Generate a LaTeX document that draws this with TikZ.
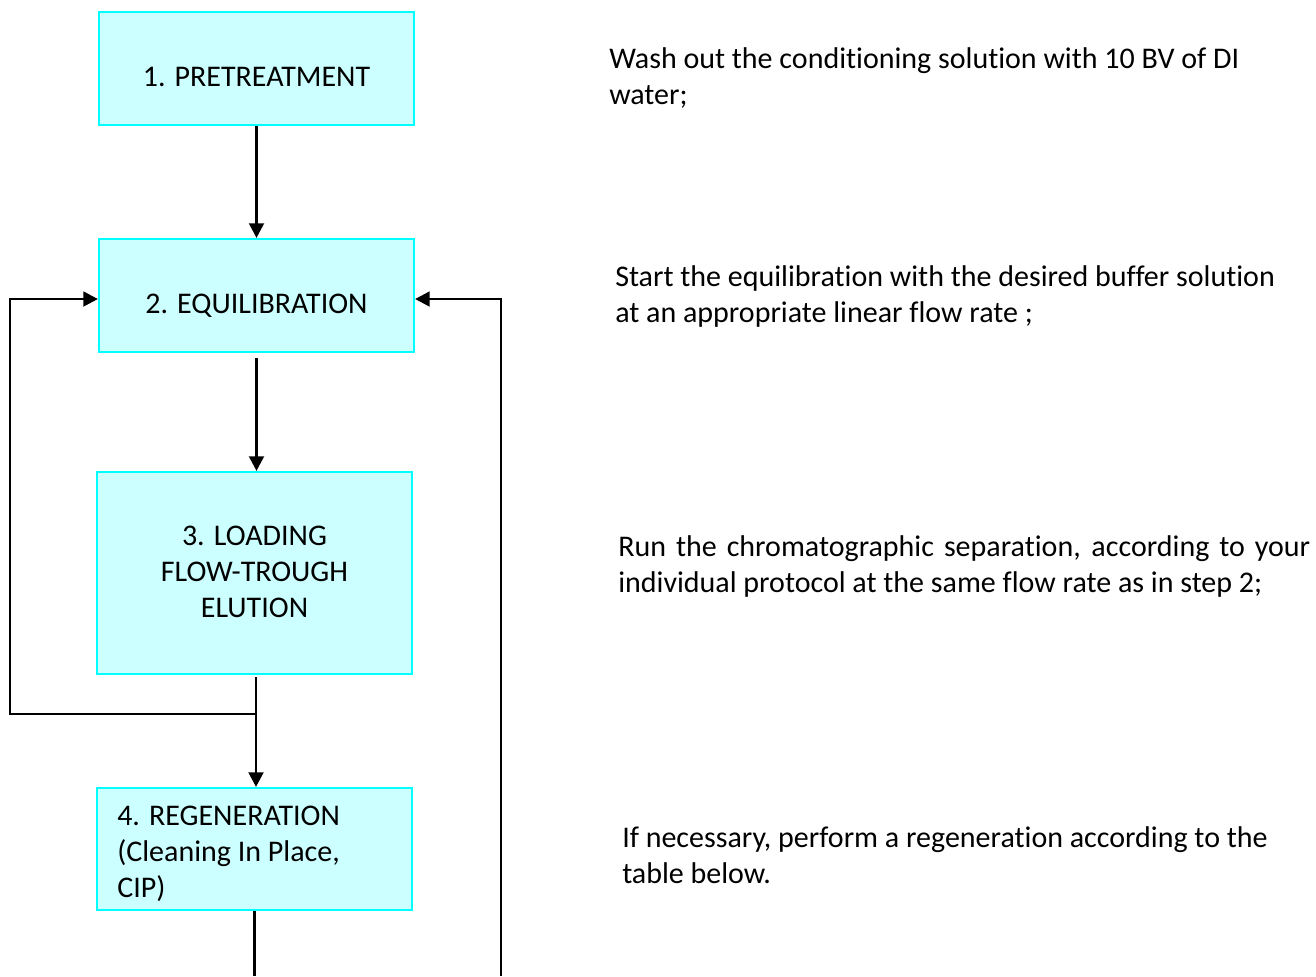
\documentclass[tikz,border=0pt]{standalone}
\usepackage{fontspec}
\setmainfont{Carlito}[Ligatures={NoCommon}]
\usetikzlibrary{arrows.meta}
\definecolor{boxfill}{HTML}{CCFFFF}
\definecolor{boxline}{HTML}{00FFFF}
\begin{document}
\begin{tikzpicture}[x=0.75pt,y=-0.75pt,
  stepbox/.style={draw=boxline, fill=boxfill, line width=1.6pt, minimum width=236.25pt, inner sep=0pt},
  flow/.style={draw=black, line width=2.2pt, -{Triangle[length=11pt,width=11pt]}},
  plain/.style={draw=black, line width=2.2pt},
  lbl/.style={font=\fontsize{22.5}{27}\selectfont, inner sep=0pt}]
\useasboundingbox (0,0) rectangle (1316,976);
% boxes
\node[stepbox, minimum height=84.75pt] (b1) at (256.5,68.5) {};
\node[stepbox, minimum height=84.75pt] (b2) at (256.5,295.5) {};
\node[stepbox, minimum height=151.5pt] (b3) at (254.5,573) {};
\node[stepbox, minimum height=91.5pt] (b4) at (254.5,849) {};
% box texts
\node[lbl, anchor=base] (x1) at (256.5,86) {1. PRETREATMENT};
\node[lbl, anchor=base] (x2) at (256.5,313) {2. EQUILIBRATION};
\node[lbl, anchor=base, align=center] (x3) at (254.5,617) {3. LOADING\\FLOW-TROUGH\\ELUTION};
\node[lbl, anchor=base west, align=left] (x4) at (117,897) {4. REGENERATION\\(Cleaning In Place,\\CIP)};
% right texts
\node[lbl, anchor=base west, align=left] (t1) at (609,104) {Wash out the conditioning solution with 10 BV of DI\\water;};
\node[lbl, anchor=base west, align=left] (t2) at (615,322) {Start the equilibration with the desired buffer solution\\at an appropriate linear flow rate ;};
\node[lbl, anchor=base west, align=left] (t3) at (618,592) {\makebox[519pt][s]{Run the chromatographic separation, according to your}\\individual protocol at the same flow rate as in step 2;};
\node[lbl, anchor=base west, align=left] (t4) at (622,883) {If necessary, perform a regeneration according to the\\table below.};
% connectors
\draw[flow] (b1.south) -- (b2.north);
\draw[flow, shorten <=3.75pt] (b2.south) -- (b2.south |- b3.north);
\coordinate (s3) at (256,674);
\draw[flow, shorten <=2.25pt] (s3) -- (s3 |- b4.north);
\coordinate (j) at (256,714);
\coordinate (lb) at (10,714);
\coordinate (lt) at (10,299);
\draw[flow] (j) -- (lb) -- (lt) -- (lt -| b2.west);
\coordinate (e4) at (254.5,976);
\draw[plain] (b4.south) -- (e4);
\coordinate (rb) at (501,976);
\coordinate (rt) at (501,299);
\draw[flow] (rb) -- (rt) -- (rt -| b2.east);
\end{tikzpicture}
\end{document}
